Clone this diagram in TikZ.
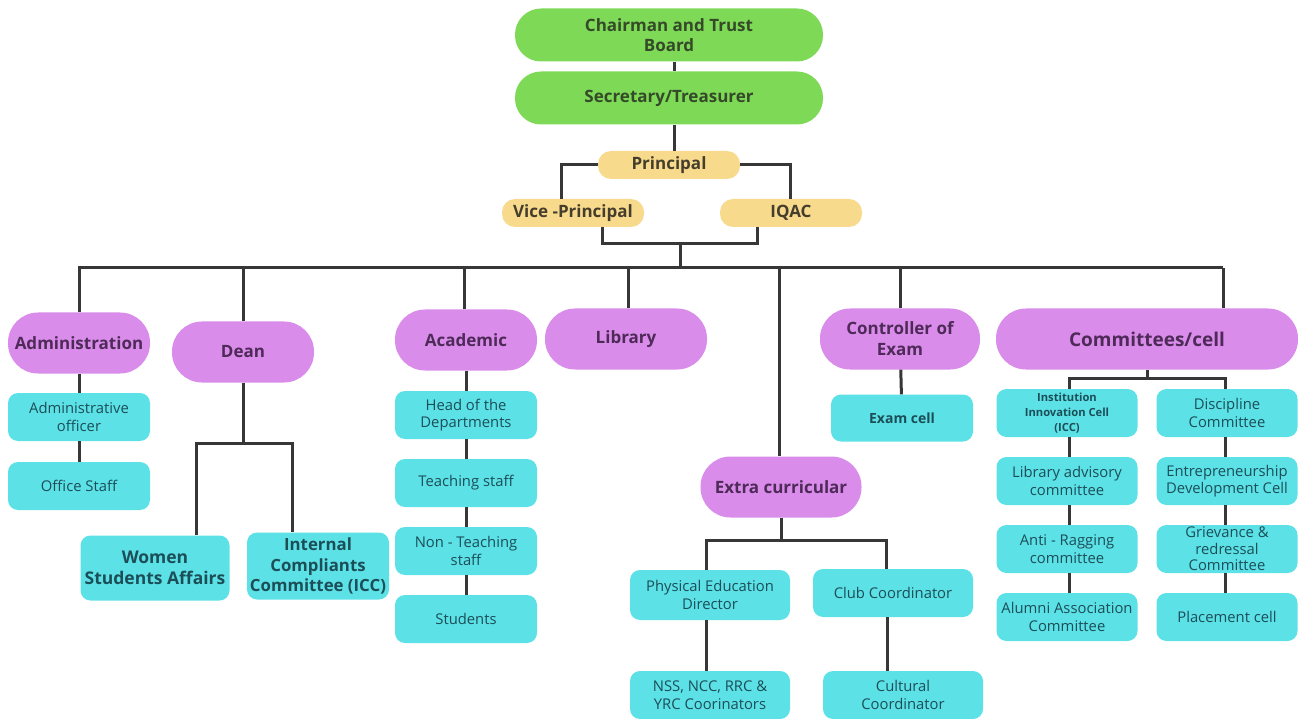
\documentclass[tikz,border=0pt]{standalone}
\usepackage{fontspec}
\setmainfont{Open Sans}
\usetikzlibrary{positioning, shapes}
\definecolor{greenfill}{RGB}{126,217,87}
\definecolor{greentext}{RGB}{52,74,40}
\definecolor{yellowfill}{RGB}{247,218,140}
\definecolor{yellowtext}{RGB}{70,62,45}
\definecolor{purplefill}{RGB}{218,140,235}
\definecolor{purpletext}{RGB}{78,42,88}
\definecolor{cyanfill}{RGB}{92,225,230}
\definecolor{cyantext}{RGB}{28,78,88}
\definecolor{linegray}{RGB}{55,55,55}

\begin{document}
\begin{tikzpicture}[x=1pt, y=-1pt, auto]
\tikzstyle{boardbox} = [rectangle, fill=greenfill, text=greentext, align=center,
    rounded corners=26pt, minimum width=308pt, minimum height=53pt, inner sep=0pt,
    font=\fontsize{17}{20}\selectfont\bfseries]
\tikzstyle{leadbox} = [rectangle, fill=yellowfill, text=yellowtext, align=center,
    rounded corners=13pt, minimum width=142pt, minimum height=28pt, inner sep=0pt,
    font=\fontsize{17}{20}\selectfont\bfseries]
\tikzstyle{unitbox} = [rectangle, fill=purplefill, text=purpletext, align=center,
    rounded corners=30pt, minimum width=142pt, minimum height=61pt, inner sep=0pt,
    font=\fontsize{17}{21}\selectfont\bfseries]
\tikzstyle{subbox} = [rectangle, fill=cyanfill, text=cyantext, align=center,
    rounded corners=10pt, minimum width=142pt, minimum height=48pt, inner sep=0pt,
    font=\fontsize{14.8}{17.5}\selectfont]
\tikzstyle{line} = [draw=linegray, line width=3pt]
\useasboundingbox (0,0) rectangle (1304,719);
    % Place nodes
    \node [boardbox] (chair) at (669,35) {Chairman and Trust\\Board};
    \node [boardbox] (secr) at (669,98) {Secretary/Treasurer};
    \node [leadbox] (prin) at (669,165) {Principal};
    \node [leadbox] (vp) at (573,213) {Vice -Principal};
    \node [leadbox] (iqac) at (791,213) {IQAC};

    \node [unitbox] (admin) at (79,343) {Administration};
    \node [unitbox] (dean) at (243,352) {Dean};
    \node [unitbox] (acad) at (466,340) {Academic};
    \node [unitbox, minimum width=162pt] (lib) at (626,339) {Library};
    \node [unitbox, minimum width=160pt] (ctrl) at (900,339) {Controller of\\Exam};
    \node [unitbox, minimum width=302pt, font=\fontsize{19}{22}\selectfont\bfseries] (comm) at (1147,339) {Committees/cell};
    \node [unitbox, minimum width=161pt] (extra) at (781,487) {Extra curricular};

    \node [subbox] (aoff) at (79,417) {Administrative\\officer};
    \node [subbox] (ostaff) at (79,486) {Office Staff};
    \node [subbox, minimum width=149pt, minimum height=65pt, font=\fontsize{17.5}{21}\selectfont\bfseries] (women) at (155,568) {Women\\Students Affairs};
    \node [subbox, minimum height=67pt, font=\fontsize{16.8}{20.5}\selectfont\bfseries] (icc) at (318,566) {Internal\\Compliants\\Committee (ICC)};

    \node [subbox] (hod) at (466,415) {Head of the\\Departments};
    \node [subbox] (teach) at (466,483) {Teaching staff};
    \node [subbox] (nonteach) at (466,551) {Non - Teaching\\staff};
    \node [subbox] (stud) at (466,619) {Students};

    \node [subbox, minimum width=160pt, minimum height=50pt] (ped) at (710,595) {Physical Education\\Director};
    \node [subbox, minimum width=160pt] (club) at (893,593) {Club Coordinator};
    \node [subbox, minimum width=160pt] (nss) at (710,695) {NSS, NCC, RRC \&\\YRC Coorinators};
    \node [subbox, minimum width=160pt] (cult) at (903,695) {Cultural\\Coordinator};

    \node [subbox, minimum height=47pt, font=\fontsize{14}{17}\selectfont\bfseries] (exam) at (902,418) {Exam cell};

    \node [subbox, minimum width=141pt, font=\fontsize{11.2}{15}\selectfont\bfseries] (iic) at (1067,413) {Institution\\Innovation Cell\\(ICC)};
    \node [subbox, minimum width=141pt] (libadv) at (1067,481) {Library advisory\\committee};
    \node [subbox, minimum width=141pt] (anti) at (1067,549) {Anti - Ragging\\committee};
    \node [subbox, minimum width=141pt] (alum) at (1067,617) {Alumni Association\\Committee};
    \node [subbox, minimum width=141pt] (disc) at (1227,413) {Discipline\\Committee};
    \node [subbox, minimum width=141pt] (entre) at (1227,481) {Entrepreneurship\\Development Cell};
    \node [subbox, minimum width=141pt, font=\fontsize{14.8}{16.5}\selectfont] (griev) at (1227,549) {Grievance \&\\redressal\\Committee};
    \node [subbox, minimum width=141pt] (place) at (1227,617) {Placement cell};

    \coordinate (vpj) at (680,244);
    \coordinate (busl) at (78,268);
    \coordinate (busr) at (1223,268);
    \coordinate (deanj) at (243,443);
    \coordinate (extraj) at (781,540);
    \coordinate (commj) at (1147,378);

%paths
    \path [line] ([xshift=5pt]chair.south) -- ([xshift=5pt]secr.north);
    \path [line] ([xshift=5pt]secr.south) -- ([xshift=5pt]prin.north);
    \path [line] (prin.west) -| ([xshift=-12pt]vp.north);
    \path [line] (prin.east) -| ([xshift=-1pt]iqac.north);
    \path [line] ([xshift=29pt]vp.south) |- (vpj) -| ([xshift=-34pt]iqac.south);
    \path [line] (vpj) -- (vpj |- busl);
    \path [line] (busl) -- (busr);

    \path [line] (admin.north) -- (admin.north |- busl);
    \path [line] (dean.north) -- (dean.north |- busl);
    \path [line] ([xshift=-2pt]acad.north) -- ([xshift=-2pt]acad.north |- busl);
    \path [line] ([xshift=2pt]lib.north) -- ([xshift=2pt]lib.north |- busl);
    \path [line] ([xshift=-2pt]extra.north) -- ([xshift=-2pt]extra.north |- busl);
    \path [line] (ctrl.north) -- (ctrl.north |- busl);
    \path [line] (busr) -- (busr |- comm.north);

    \path [line] (admin) -- (aoff);
    \path [line] (aoff) -- (ostaff);

    \path [line] (dean.south) -- (deanj);
    \path [line] ([xshift=41pt]women.north) |- (deanj) -| ([xshift=-26pt]icc.north);

    \path [line] (acad) -- (hod);
    \path [line] (hod) -- (teach);
    \path [line] (teach) -- (nonteach);
    \path [line] (nonteach) -- (stud);

    \path [line] (extra.south) -- (extraj);
    \path [line] ([xshift=-4pt]ped.north) |- (extraj) -| ([xshift=-7pt]club.north);
    \path [line] ([xshift=-4pt]ped.south) -- ([xshift=-4pt]nss.north);
    \path [line] ([xshift=-6pt]club.south) -- ([xshift=-16pt]cult.north);

    \path [line] (ctrl) -- (exam);

    \path [line] (comm.south) -- (commj);
    \path [line] ([xshift=2pt]iic.north) |- (commj) -| ([xshift=-2pt]disc.north);
    \path [line] ([xshift=2pt]iic.south) -- ([xshift=2pt]libadv.north);
    \path [line] ([xshift=2pt]libadv.south) -- ([xshift=2pt]anti.north);
    \path [line] ([xshift=2pt]anti.south) -- ([xshift=2pt]alum.north);
    \path [line] ([xshift=-2pt]disc.south) -- ([xshift=-2pt]entre.north);
    \path [line] ([xshift=-2pt]entre.south) -- ([xshift=-2pt]griev.north);
    \path [line] ([xshift=-2pt]griev.south) -- ([xshift=-2pt]place.north);

\end{tikzpicture}
\end{document}
